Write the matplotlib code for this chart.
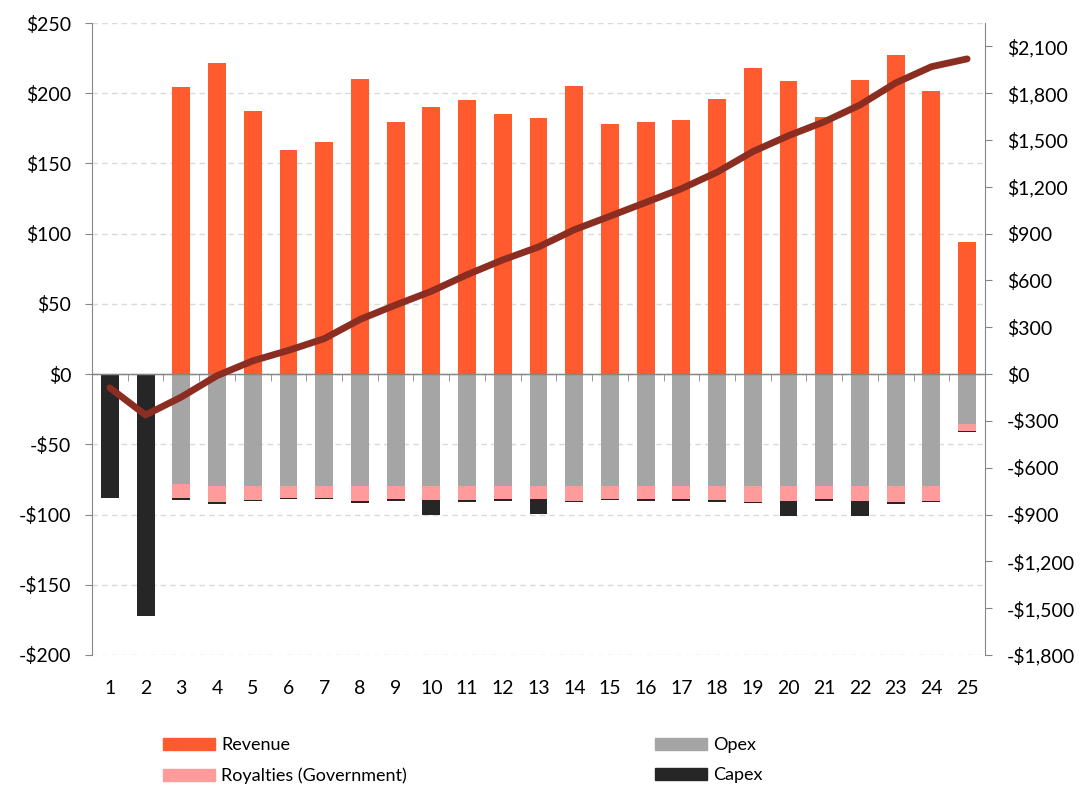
import matplotlib
matplotlib.use('Agg')
import matplotlib.pyplot as plt
from matplotlib.ticker import FuncFormatter, MultipleLocator
from matplotlib.patches import Patch

plt.rcParams['font.family'] = ['Lato', 'DejaVu Sans']

years = list(range(1, 26))
revenue = [0, 0, 204.4, 221.7, 187.1, 159.3, 165.0, 210.1, 179.5, 190.2, 195.2, 185.0, 182.1,
           204.9, 178.3, 179.7, 181.1, 195.6, 217.9, 208.9, 182.8, 209.4, 227.0, 201.8, 94.2]
opex = [0, 0, -78, -80, -80, -80, -80, -80, -80, -80, -80, -80, -80,
        -80, -80, -80, -80, -80, -80, -80, -80, -80, -80, -80, -35.6]
royalties = [0, 0, -10.2, -11.1, -9.4, -8.0, -8.2, -10.5, -9.0, -9.5, -9.8, -9.2, -9.1,
             -10.2, -8.9, -9.0, -9.0, -9.8, -10.9, -10.4, -9.1, -10.5, -11.3, -10.1, -4.7]
capex = [-88, -172, -1.2, -1.5, -1.2, -1.0, -1.0, -1.2, -1.0, -10.7, -1.0, -1.0, -10.4,
         -1.0, -1.0, -1.0, -1.0, -1.0, -1.0, -10.7, -1.0, -10.7, -1.0, -1.0, -1.0]
cumulative = [-88, -262, -147, -10, 85, 152, 227, 350, 443, 531, 637, 732, 815,
              925, 1012, 1100, 1188, 1294, 1426, 1528, 1617, 1725, 1866, 1970, 2020]

c_rev = '#FF5B2E'
c_opex = '#A5A5A5'
c_roy = '#FF9B9B'
c_capex = '#262626'
c_line = '#8C2D22'
c_axis = '#868686'

fig = plt.figure(figsize=(10.83, 7.86), dpi=100)
ax = fig.add_axes([92/1083, 1-655/786, (985-92)/1083, (655-23)/786])

w = 0.5
ax.bar(years, revenue, width=w, color=c_rev, zorder=2)
ax.bar(years, opex, width=w, color=c_opex, zorder=2)
bot3 = [o + r for o, r in zip(opex, royalties)]
ax.bar(years, royalties, width=w, bottom=opex, color=c_roy, zorder=2)
ax.bar(years, capex, width=w, bottom=bot3, color=c_capex, zorder=2)

ax.set_xlim(0.5, 25.5)
ax.set_ylim(-200, 250)
ax.yaxis.set_major_locator(MultipleLocator(50))
ax.yaxis.set_major_formatter(FuncFormatter(lambda v, p: ('-$%d' % abs(v)) if v < 0 else '$%d' % v))
ax.grid(axis='y', color='#D9D9D9', linestyle=(0, (4, 3)), linewidth=1, zorder=0)
ax.axhline(0, color=c_axis, linewidth=1, zorder=3)

ax.spines['bottom'].set_visible(False)
ax.spines['top'].set_position(('data', 0))
ax.spines['top'].set_color(c_axis)
ax.spines['top'].set_zorder(3)
ax.spines['left'].set_color(c_axis)
ax.spines['right'].set_visible(False)

ax.set_xticks(years)
ax.set_xticks([y + 0.5 for y in [0] + years], minor=True)
ax.tick_params(axis='x', which='major', bottom=True, top=False, length=0, pad=18,
               labelsize=14, labelcolor='black')
ax.tick_params(axis='x', which='minor', bottom=False, top=True, direction='in',
               length=5, color=c_axis)
ax.tick_params(axis='y', length=5, color=c_axis, labelsize=14, pad=10)

ax2 = ax.twinx()
ax2.plot(years, cumulative, color=c_line, linewidth=4.9, solid_capstyle='round',
         solid_joinstyle='round', zorder=5)
ax2.set_ylim(-1800, 2250)
ax2.set_yticks(list(range(-1800, 2101, 300)))
ax2.yaxis.set_major_formatter(FuncFormatter(
    lambda v, p: ('-$' + format(int(abs(v)), ',')) if v < 0 else '$' + format(int(v), ',')))
for s in ['top', 'bottom', 'left']:
    ax2.spines[s].set_visible(False)
ax2.spines['right'].set_color(c_axis)
ax2.tick_params(axis='y', length=5, color=c_axis, labelsize=14, pad=11)

h1 = [Patch(color=c_rev, label='Revenue'), Patch(color=c_roy, label='Royalties (Government)')]
h2 = [Patch(color=c_opex, label='Opex'), Patch(color=c_capex, label='Capex')]
kw = dict(frameon=False, fontsize=13, handlelength=2.9, handleheight=0.65,
          handletextpad=0.32, labelspacing=0.8, borderaxespad=0, borderpad=0)
fig.legend(handles=h1, loc='upper left', bbox_to_anchor=(163/1083, 1-737/786), **kw)
fig.legend(handles=h2, loc='upper left', bbox_to_anchor=(655/1083, 1-737/786), **kw)

fig.savefig('out.png', dpi=100)
